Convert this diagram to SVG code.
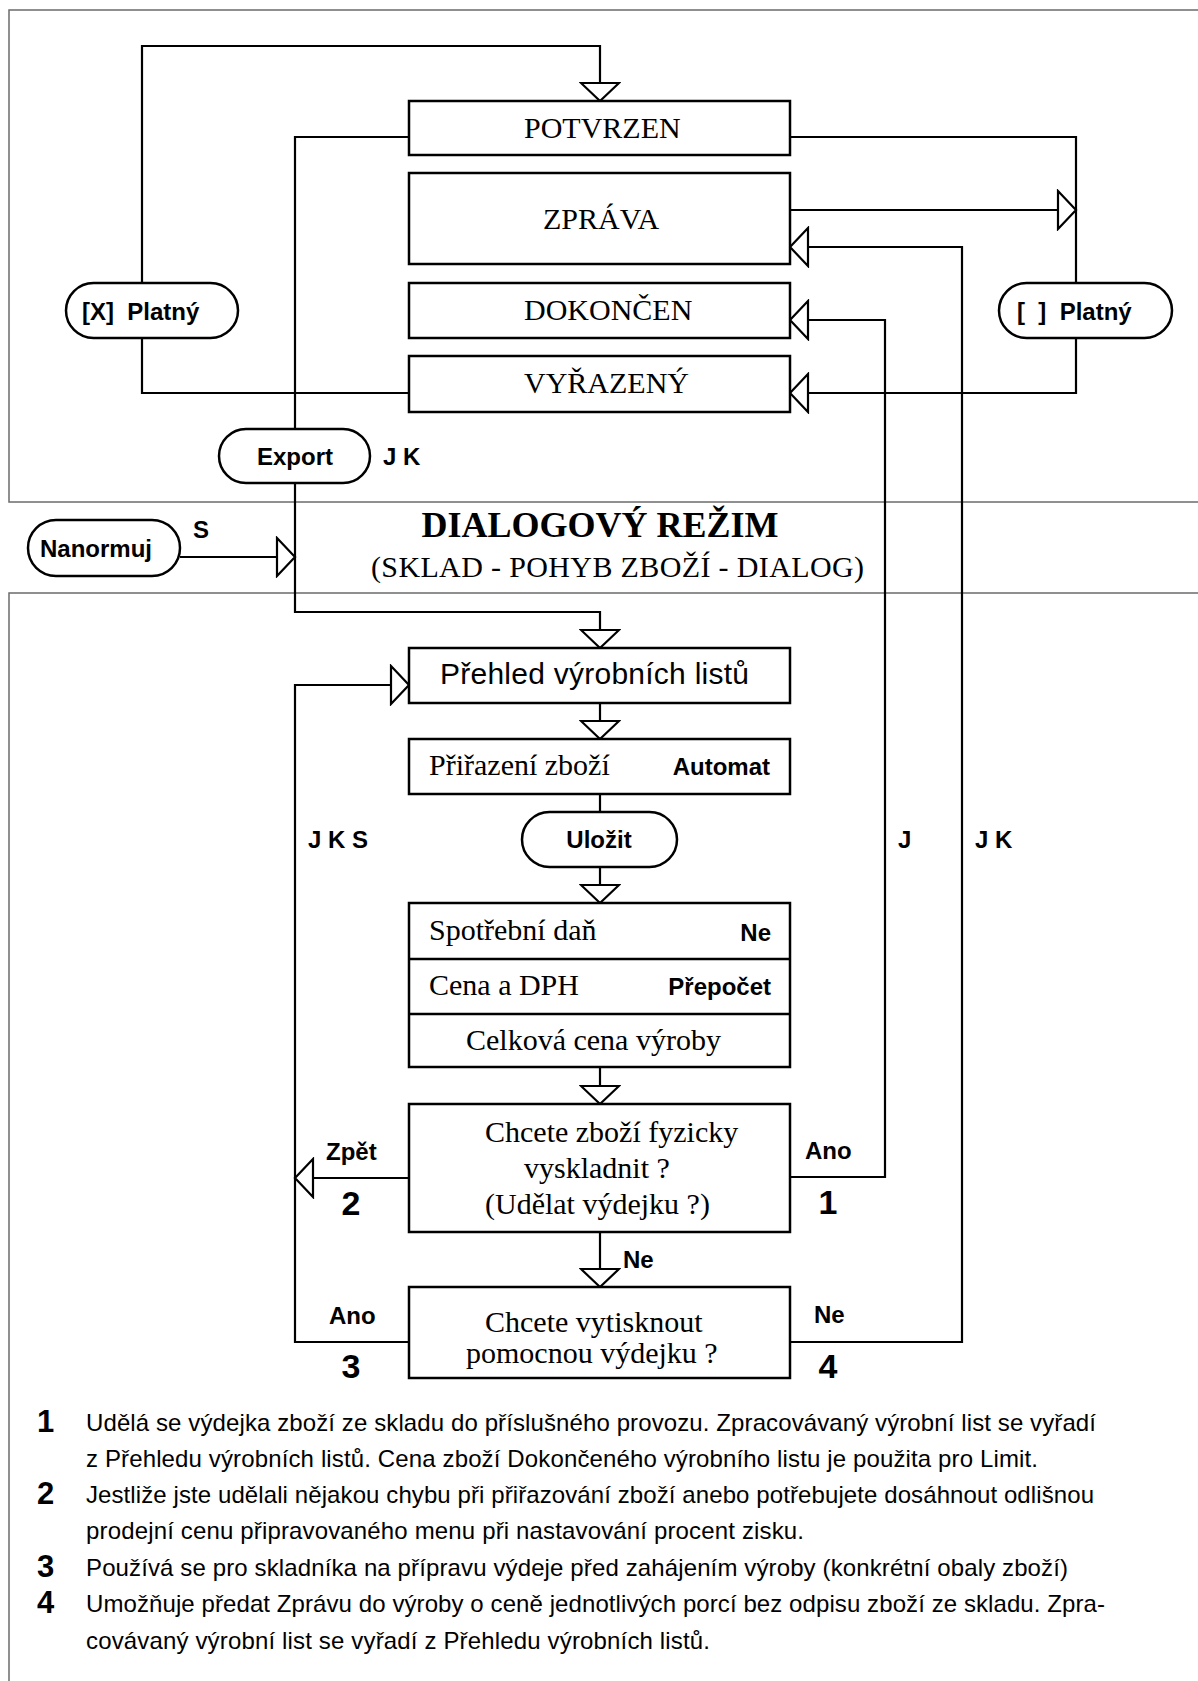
<svg xmlns="http://www.w3.org/2000/svg" width="1198" height="1681" viewBox="0 0 1198 1681">
<defs>
<style>
.frame{fill:none;stroke:#6b6b6b;stroke-width:1.5}
.box{fill:#fff;stroke:#000;stroke-width:2.5}
.ln{fill:none;stroke:#000;stroke-width:2.2}
.ar{fill:none;stroke:#000;stroke-width:2.2;marker-end:url(#tri)}
.serif{font-family:"Liberation Serif","Times New Roman",serif;font-size:30px;fill:#000}
.sans{font-family:"Liberation Sans",Arial,sans-serif;fill:#000}
.b24{font-weight:bold;font-size:24px}
.num{font-weight:bold;font-size:34px}
.fn{font-size:24px}
.fnn{font-weight:bold;font-size:31px}
</style>
<marker id="tri" markerUnits="userSpaceOnUse" viewBox="-2 -21 22 42" markerWidth="22" markerHeight="42" refX="18" refY="0" orient="auto">
<path d="M0,-19 L18,0 L0,19 Z" fill="#fff" stroke="#000" stroke-width="2.2"/>
</marker>
</defs>
<rect width="1198" height="1681" fill="#fff"/>
<g id="frames">
<rect class="frame" x="9" y="10" width="1200" height="492"/>
<rect class="frame" x="9" y="593" width="1200" height="1100"/>
</g>
<g id="connectors">
<path class="ar" d="M142,283 V46 H600 V101"/>
<path class="ln" d="M142,338 V393 H409"/>
<path class="ln" d="M409,137 H295 V429"/>
<path class="ar" d="M295,483 V612 H600 V648"/>
<path class="ar" d="M180,557 H295"/>
<path class="ln" d="M790,137 H1076 V283"/>
<path class="ar" d="M790,210 H1076"/>
<path class="ar" d="M1076,338 V393 H790"/>
<path class="ar" d="M790,1177 H885 V320 H790"/>
<path class="ar" d="M790,1342 H962 V247 H790"/>
<path class="ar" d="M600,703 V739"/>
<path class="ln" d="M600,794 V812"/>
<path class="ar" d="M600,867 V903"/>
<path class="ar" d="M600,1067 V1104"/>
<path class="ar" d="M600,1232 V1287"/>
<path class="ar" d="M409,1342 H295 V685 H409"/>
<path class="ar" d="M409,1178 H295"/>
</g>
<g id="n-potvrzen"><rect class="box" x="409" y="101" width="381" height="54"/><text class="serif" x="524" y="138">POTVRZEN</text></g>
<g id="n-zprava"><rect class="box" x="409" y="173" width="381" height="91"/><text class="serif" x="543" y="229">ZPRÁVA</text></g>
<g id="n-dokoncen"><rect class="box" x="409" y="283" width="381" height="55"/><text class="serif" x="524" y="320">DOKONČEN</text></g>
<g id="n-vyrazeny"><rect class="box" x="409" y="356" width="381" height="56"/><text class="serif" x="524" y="393">VYŘAZENÝ</text></g>
<g id="n-platny-x"><rect class="box" x="66" y="283" width="172" height="55" rx="27.5"/><text class="sans b24" x="82" y="320" xml:space="preserve">[X]  Platný</text></g>
<g id="n-platny-empty"><rect class="box" x="999" y="283" width="173" height="55" rx="27.5"/><text class="sans b24" x="1017" y="320" xml:space="preserve">[  ]  Platný</text></g>
<g id="n-export"><rect class="box" x="219" y="429" width="151" height="54" rx="27"/><text class="sans b24" x="295" y="465" text-anchor="middle">Export</text></g>
<text class="sans b24" x="383" y="465">J K</text>
<g id="n-nanormuj"><rect class="box" x="28" y="520" width="152" height="56" rx="28"/><text class="sans b24" x="40" y="557">Nanormuj</text></g>
<text class="sans b24" x="193" y="538">S</text>
<g id="title">
<text x="600" y="537" text-anchor="middle" style="font-family:'Liberation Serif','Times New Roman',serif;font-weight:bold;font-size:36px">DIALOGOVÝ REŽIM</text>
<text x="371" y="577" textLength="493" style="font-family:'Liberation Serif','Times New Roman',serif;font-size:30px">(SKLAD - POHYB ZBOŽÍ - DIALOG)</text>
</g>
<g id="n-prehled"><rect class="box" x="409" y="648" width="381" height="55"/><text class="sans" x="440" y="684" style="font-size:30px" textLength="309">Přehled výrobních listů</text></g>
<g id="n-prirazeni"><rect class="box" x="409" y="739" width="381" height="55"/><text class="serif" x="429" y="775">Přiřazení zboží</text><text class="sans b24" x="770" y="775" text-anchor="end">Automat</text></g>
<g id="n-ulozit"><rect class="box" x="522" y="812" width="155" height="55" rx="27.5"/><text class="sans b24" x="599" y="848" text-anchor="middle">Uložit</text></g>
<text class="sans b24" x="308" y="848">J K S</text>
<text class="sans b24" x="898" y="848">J</text>
<text class="sans b24" x="975" y="848">J K</text>
<g id="n-ceny">
<rect class="box" x="409" y="903" width="381" height="164"/>
<path class="ln" d="M409,959 H790 M409,1014 H790" style="stroke-width:2.5"/>
<text class="serif" x="429" y="940">Spotřební daň</text><text class="sans b24" x="771" y="941" text-anchor="end">Ne</text>
<text class="serif" x="429" y="995">Cena a DPH</text><text class="sans b24" x="771" y="995" text-anchor="end">Přepočet</text>
<text class="serif" x="466" y="1050">Celková cena výroby</text>
</g>
<g id="n-vyskladnit">
<rect class="box" x="409" y="1104" width="381" height="128"/>
<text class="serif" x="485" y="1142">Chcete zboží fyzicky</text>
<text class="serif" x="524" y="1178">vyskladnit ?</text>
<text class="serif" x="485" y="1214">(Udělat výdejku ?)</text>
</g>
<g id="n-tisk">
<rect class="box" x="409" y="1287" width="381" height="91"/>
<text class="serif" x="485" y="1332">Chcete vytisknout</text>
<text class="serif" x="466" y="1363">pomocnou výdejku ?</text>
</g>
<g id="labels">
<text class="sans b24" x="326" y="1160">Zpět</text>
<text class="sans num" x="351" y="1215" text-anchor="middle">2</text>
<text class="sans b24" x="805" y="1159">Ano</text>
<text class="sans num" x="828" y="1214" text-anchor="middle">1</text>
<text class="sans b24" x="623" y="1268">Ne</text>
<text class="sans b24" x="329" y="1324">Ano</text>
<text class="sans num" x="351" y="1378" text-anchor="middle">3</text>
<text class="sans b24" x="814" y="1323">Ne</text>
<text class="sans num" x="828" y="1378" text-anchor="middle">4</text>
</g>
<g id="notes" class="sans">
<text class="fnn" x="37" y="1432">1</text>
<text class="fn" x="86" y="1431" textLength="1010">Udělá se výdejka zboží ze skladu do příslušného provozu. Zpracovávaný výrobní list se vyřadí</text>
<text class="fn" x="86" y="1467" textLength="952">z Přehledu výrobních listů. Cena zboží Dokončeného výrobního listu je použita pro Limit.</text>
<text class="fnn" x="37" y="1504">2</text>
<text class="fn" x="86" y="1503" textLength="1008">Jestliže jste udělali nějakou chybu při přiřazování zboží anebo potřebujete dosáhnout odlišnou</text>
<text class="fn" x="86" y="1539" textLength="718">prodejní cenu připravovaného menu při nastavování procent zisku.</text>
<text class="fnn" x="37" y="1577">3</text>
<text class="fn" x="86" y="1576" textLength="982">Používá se pro skladníka na přípravu výdeje před zahájením výroby (konkrétní obaly zboží)</text>
<text class="fnn" x="37" y="1613">4</text>
<text class="fn" x="86" y="1612" textLength="1019">Umožňuje předat Zprávu do výroby o ceně jednotlivých porcí bez odpisu zboží ze skladu. Zpra-</text>
<text class="fn" x="86" y="1649" textLength="624">covávaný výrobní list se vyřadí z Přehledu výrobních listů.</text>
</g>
</svg>
